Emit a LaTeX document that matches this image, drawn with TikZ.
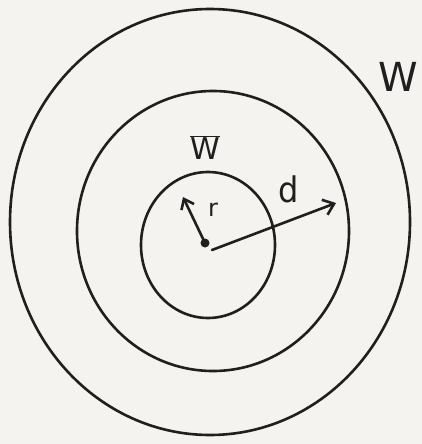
\documentclass[tikz,border=0pt]{standalone}
\usepackage{fontspec}
\setmainfont{DejaVu Sans}
\usetikzlibrary{arrows.meta}
\begin{document}
\begin{tikzpicture}[x=1pt,y=-1pt,
  ink/.style={draw=black!88,line width=2.6pt,line cap=round},
  lbl/.style={text=black!88,inner sep=0pt,font=\fontsize{30}{32}\selectfont}]
\fill[fill={rgb,255:red,244;green,243;blue,240}] (0,0) rectangle (422,444);
\useasboundingbox (0,0) rectangle (422,444);
\draw[ink] (210,222) ellipse [x radius=200,y radius=213];
\draw[ink] (213,231) ellipse [x radius=136,y radius=140];
\draw[ink] (208,245) ellipse [x radius=67,y radius=73];
\coordinate (c) at (205,243);
\coordinate (c2) at (212,250);
\coordinate (rtip) at (183,197);
\coordinate (dtip) at (336,203);
\fill[black!88] (c) circle (4.5);
\draw[ink,-{Straight Barb[length=9pt,width=14pt]}] (c) -- (rtip);
\draw[ink,-{Straight Barb[length=10pt,width=16pt]}] (c2) -- (dtip);
\node[lbl,font=\fontsize{24}{26}\selectfont] (rl) at (213,210) {r};
\node[lbl,font=\fontsize{32}{34}\selectfont,yscale=1.1] (dl) at (289,189) {d};
\node[lbl,font=\fontsize{30}{32}\selectfont] (wbar) at (205,148) {$\overline{\mbox{W}}$};
\node[lbl,font=\fontsize{40}{42}\selectfont] (w) at (398,77) {W};
\end{tikzpicture}
\end{document}
